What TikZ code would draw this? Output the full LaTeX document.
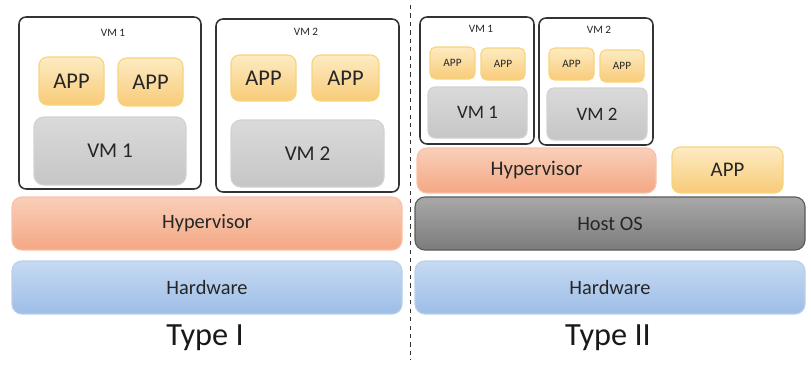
\documentclass[tikz,border=0pt]{standalone}
\usepackage{fontspec}
\setmainfont{Carlito}
\usepackage{xcolor}
\usetikzlibrary{positioning}
\definecolor{apptop}{HTML}{FDEBC2}
\definecolor{appbot}{HTML}{F8CB78}
\definecolor{appline}{HTML}{F7D47C}
\definecolor{vmtop}{HTML}{DADADA}
\definecolor{vmbot}{HTML}{C6C6C6}
\definecolor{vmline}{HTML}{D2D2D2}
\definecolor{hyptop}{HTML}{F9CFB9}
\definecolor{hypbot}{HTML}{F4A784}
\definecolor{hypline}{HTML}{F8C2A8}
\definecolor{hosttop}{HTML}{A8A8A8}
\definecolor{hostbot}{HTML}{7C7C7C}
\definecolor{hostline}{HTML}{5A5A5A}
\definecolor{hwtop}{HTML}{C6DAF2}
\definecolor{hwbot}{HTML}{9DBDE6}
\definecolor{hwline}{HTML}{BAD0EC}
\tikzset{%
	vmframe/.style = {draw=black!80, line width=1.1pt, rounded corners=5pt},
	vmtitle/.style = {font=\fontsize{8}{9}\selectfont, text=black!85},
	appbox/.style  = {draw=appline, line width=0.8pt, rounded corners=6pt, top color=apptop, bottom color=appbot, text=black!85},
	osbox/.style   = {draw=vmline, line width=0.8pt, rounded corners=7pt, top color=vmtop, bottom color=vmbot, text=black!85},
	hypbox/.style  = {draw=hypline, line width=0.8pt, rounded corners=7pt, top color=hyptop, bottom color=hypbot, text=black!85},
	hostbox/.style = {draw=hostline, line width=0.8pt, rounded corners=7pt, top color=hosttop, bottom color=hostbot, text=black!85},
	hwbox/.style   = {draw=hwline, line width=0.8pt, rounded corners=7pt, top color=hwtop, bottom color=hwbot, text=black!85},
	layer/.style   = {minimum width=9.75cm, minimum height=1.325cm, font=\fontsize{14.5}{16}\selectfont},
	caption/.style = {font=\fontsize{23}{27}\selectfont, text=black!90},
}

\begin{document}
\begin{tikzpicture}
	\useasboundingbox (0,0) rectangle (20.275,-9.15);
	% Type I: hypervisor straight on the hardware
	\node[vmframe, minimum width=4.55cm, minimum height=4.3cm] (vmA) at (2.75,-2.575) {};
	\node[vmframe, minimum width=4.575cm, minimum height=4.325cm] (vmB) at (7.6875,-2.6375) {};
	\node[vmtitle] (vmAlabel) at (2.825,-0.825) {VM 1};
	\node[vmtitle] (vmBlabel) at (7.65,-0.8) {VM 2};
	\node[appbox, minimum width=1.625cm, minimum height=1.2cm, font=\fontsize{16}{18}\selectfont] (appA1) at (1.7875,-2.025) {APP};
	\node[appbox, minimum width=1.625cm, minimum height=1.2cm, font=\fontsize{16}{18}\selectfont] (appA2) at (3.7625,-2.05) {APP};
	\node[appbox, minimum width=1.625cm, minimum height=1.15cm, font=\fontsize{16}{18}\selectfont] (appB1) at (6.5875,-1.95) {APP};
	\node[appbox, minimum width=1.675cm, minimum height=1.15cm, font=\fontsize{16}{18}\selectfont] (appB2) at (8.6375,-1.95) {APP};
	\node[osbox, minimum width=3.8cm, minimum height=1.7cm, font=\fontsize{15}{17}\selectfont] (osA) at (2.75,-3.775) {VM 1};
	\node[osbox, minimum width=3.825cm, minimum height=1.675cm, font=\fontsize{15}{17}\selectfont] (osB) at (7.6875,-3.8375) {VM 2};
	\node[hypbox, layer] (hypA) at (5.175,-5.5875) {Hypervisor};
	\node[hwbox, layer] (hwA) at (5.175,-7.1875) {Hardware};
	\node[caption] (typeA) at (5.125,-8.45) {Type I};

	\draw[dashed, line width=0.7pt, black!80] (10.25,-0.125) -- (10.25,-9.0);

	% Type II: hypervisor on top of a host OS
	\node[vmframe, minimum width=2.85cm, minimum height=3.175cm] (vmC) at (11.925,-2.0125) {};
	\node[vmframe, minimum width=2.85cm, minimum height=3.175cm] (vmD) at (14.9,-2.0375) {};
	\node[vmtitle] (vmClabel) at (12.025,-0.725) {VM 1};
	\node[vmtitle] (vmDlabel) at (14.975,-0.75) {VM 2};
	\node[appbox, rounded corners=4pt, minimum width=1.125cm, minimum height=0.8cm, font=\fontsize{8}{9}\selectfont] (appC1) at (11.3125,-1.575) {APP};
	\node[appbox, rounded corners=4pt, minimum width=1.1cm, minimum height=0.8cm, font=\fontsize{8}{9}\selectfont] (appC2) at (12.575,-1.6) {APP};
	\node[appbox, rounded corners=4pt, minimum width=1.125cm, minimum height=0.8cm, font=\fontsize{8}{9}\selectfont] (appD1) at (14.2875,-1.6) {APP};
	\node[appbox, rounded corners=4pt, minimum width=1.1cm, minimum height=0.8cm, font=\fontsize{8}{9}\selectfont] (appD2) at (15.55,-1.65) {APP};
	\node[osbox, rounded corners=5pt, minimum width=2.475cm, minimum height=1.275cm, font=\fontsize{13.5}{15}\selectfont] (osC) at (11.9375,-2.8125) {VM 1};
	\node[osbox, rounded corners=5pt, minimum width=2.5cm, minimum height=1.3cm, font=\fontsize{13.5}{15}\selectfont] (osD) at (14.925,-2.85) {VM 2};
	\node[hypbox, minimum width=5.975cm, minimum height=1.125cm, font=\fontsize{14.8}{16}\selectfont] (hypC) at (13.4125,-4.2625) {Hypervisor};
	\node[appbox, minimum width=2.775cm, minimum height=1.15cm, font=\fontsize{14.8}{16}\selectfont] (appE) at (18.1875,-4.25) {APP};
	\node[hostbox, layer] (host) at (15.25,-5.5875) {Host OS};
	\node[hwbox, layer] (hwB) at (15.25,-7.1875) {Hardware};
	\node[caption] (typeB) at (15.2,-8.45) {Type II};
\end{tikzpicture}
\end{document}
